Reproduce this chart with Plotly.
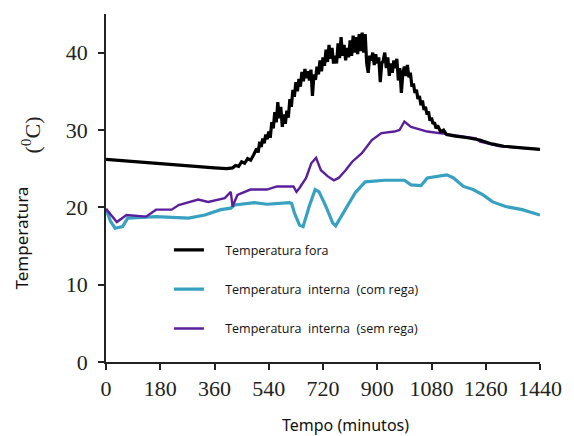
import plotly.graph_objects as go

# ---- data ----
fora_t = [0, 60, 120, 180, 240, 300, 360, 400, 420, 430, 440, 450, 460, 470, 480, 490, 500, 505, 510, 515,
          520, 525, 530, 535, 540, 545, 550, 555, 560, 565, 570, 575, 580, 585, 590, 595, 600, 605, 610, 615,
          620, 625, 630, 635, 640, 645, 650, 655, 660, 665, 670, 675, 680, 685, 690, 695, 700, 705, 710, 715,
          720, 725, 730, 735, 740, 745, 750, 755, 760, 765, 770, 775, 780, 785, 790, 795, 800, 805, 810, 815,
          820, 825, 830, 835, 840, 845, 850, 855, 860, 865, 870, 875, 880, 885, 890, 895, 900, 905, 910, 915,
          920, 925, 930, 935, 940, 945, 950, 955, 960, 965, 970, 975, 980, 985, 990, 995, 1000, 1005, 1010, 1015,
          1020, 1025, 1030, 1035, 1040, 1045, 1050, 1055, 1060, 1065, 1070, 1075, 1080, 1085, 1090, 1095, 1100,
          1110, 1120, 1130, 1140, 1160, 1200, 1240, 1280, 1320, 1380, 1440]
fora_v = [26.2, 26.0, 25.8, 25.6, 25.4, 25.3, 25.1, 25.0, 25.1, 25.4, 25.3, 25.9, 25.7, 26.3, 26.1, 26.8, 27.6, 27.1, 28.5, 27.8,
          28.9, 28.3, 29.4, 28.8, 29.8, 29.0, 31.0, 30.2, 32.3, 31.0, 33.6, 31.5, 33.0, 30.4, 32.0, 30.8, 32.5, 31.6, 34.0, 33.0,
          35.2, 34.3, 36.2, 35.0, 36.6, 35.6, 37.5, 36.3, 37.9, 36.7, 37.6, 36.4, 37.8, 34.4, 37.2, 36.5, 38.2, 37.2, 39.0, 37.6,
          39.4, 38.3, 40.4, 38.8, 41.0, 39.2, 40.6, 38.6, 39.6, 38.6, 41.2, 39.3, 42.0, 39.6, 41.0, 39.0, 40.6, 39.4, 41.6, 39.6,
          42.2, 40.0, 42.0, 39.8, 42.4, 40.2, 42.6, 40.0, 42.4, 38.6, 37.4, 39.6, 39.0, 40.0, 38.4, 39.8, 38.6, 39.4, 36.2, 38.6,
          39.0, 40.0, 38.0, 39.4, 37.0, 38.6, 37.4, 39.0, 38.0, 39.2, 36.4, 38.0, 34.8, 37.4, 38.2, 37.0, 38.4, 36.8, 37.4, 35.6,
          36.0, 34.8, 35.2, 34.0, 34.4, 33.2, 33.8, 32.6, 33.0, 32.0, 32.4, 31.2, 31.6, 30.8, 31.0, 30.2, 30.6,
          29.8, 30.0, 29.4, 29.3, 29.2, 29.0, 28.7, 28.2, 27.9, 27.7, 27.5]

com_t = [0, 15, 30, 55, 72, 110, 166, 220, 274, 328, 381, 414, 427, 492, 534, 609, 616, 625, 642, 654,
         674, 694, 707, 730, 752, 762, 795, 827, 860, 925, 990, 1012, 1045, 1066, 1131, 1153, 1186, 1218,
         1251, 1283, 1326, 1381, 1440]
com_v = [19.8, 18.2, 17.3, 17.5, 18.6, 18.7, 18.8, 18.7, 18.6, 19.0, 19.7, 19.9, 20.3, 20.6, 20.4, 20.6, 20.5, 19.3, 17.7, 17.5,
         20.1, 22.3, 22.0, 20.1, 18.0, 17.6, 19.7, 21.9, 23.3, 23.5, 23.5, 22.9, 22.8, 23.8, 24.2, 23.8, 22.7, 22.3,
         21.6, 20.7, 20.1, 19.7, 19.0]

sem_t = [0, 36, 68, 110, 133, 166, 218, 241, 306, 339, 394, 414, 420, 436, 479, 534, 567, 622, 632, 642,
         664, 681, 697, 713, 736, 756, 772, 795, 817, 849, 882, 914, 957, 974, 990, 1012, 1066, 1143,
         1228, 1241, 1283, 1306, 1440]
sem_v = [19.8, 18.1, 19.0, 18.9, 18.8, 19.7, 19.7, 20.3, 21.0, 20.7, 21.2, 22.0, 20.1, 21.6, 22.3, 22.3, 22.7, 22.7, 22.0, 22.5,
         23.8, 25.7, 26.4, 24.8, 24.0, 23.5, 23.8, 24.8, 25.9, 27.0, 28.7, 29.6, 29.8, 30.0, 31.1, 30.4, 29.8, 29.4,
         28.9, 28.5, 28.1, 27.9, 27.5]

names = ["Temperatura fora", "Temperatura  interna  (com rega)", "Temperatura  interna  (sem rega)"]
colors = ["#000000", "#38a0c0", "#5a1f9a"]
x_ticks = [0, 180, 360, 540, 720, 900, 1080, 1260, 1440]
y_ticks = [0, 10, 20, 30, 40]

pad = "\u00a0\u00a0\u00a0\u00a0\u00a0"

fig = go.Figure()
fig.add_trace(go.Scatter(x=com_t, y=com_v, mode="lines", name=pad + names[1].replace(" ", "\u00a0"),
                         legendgroup="b", legendrank=2, line=dict(color=colors[1], width=3.2)))
fig.add_trace(go.Scatter(x=sem_t, y=sem_v, mode="lines", name=pad + names[2].replace(" ", "\u00a0"),
                         legendgroup="c", legendrank=3, line=dict(color=colors[2], width=2.4)))
fig.add_trace(go.Scatter(x=fora_t, y=fora_v, mode="lines", name=pad + names[0],
                         legendgroup="a", legendrank=1, line=dict(color=colors[0], width=3.2)))

fig.update_layout(
    width=574, height=436,
    margin=dict(l=106, r=26, t=14, b=74),
    paper_bgcolor="white", plot_bgcolor="white",
    showlegend=True,
    legend=dict(x=0.145, y=0.364, xanchor="left", yanchor="top", bgcolor="rgba(0,0,0,0)",
                font=dict(family="Open Sans", size=12.5, color="#111"),
                tracegroupgap=20, traceorder="grouped"),
    xaxis=dict(range=[0, 1440], tickvals=x_ticks, ticktext=[str(v) for v in x_ticks],
               showgrid=False, zeroline=False, showline=True, linecolor="#222", linewidth=1.5,
               ticks="outside", ticklen=6, tickwidth=1.5, tickcolor="#222",
               tickfont=dict(family="Liberation Serif", size=22, color="#222")),
    yaxis=dict(range=[0, 45], tickvals=y_ticks, showgrid=False, zeroline=False, showline=True,
               linecolor="#222", linewidth=1.5, ticks="outside", ticklen=6, tickwidth=1.5, tickcolor="#222",
               ticklabelstandoff=6,
               tickfont=dict(family="Liberation Serif", size=22, color="#222")),
    annotations=[
        dict(text="Tempo (minutos)", xref="paper", yref="paper", x=0.552, y=-0.18,
             xanchor="center", yanchor="middle",
             showarrow=False, font=dict(family="Noto Sans", size=16, color="#111")),
        dict(text="Temperatura", xref="paper", yref="paper", x=-0.195, y=0.356, textangle=-90,
             xanchor="center", yanchor="middle",
             showarrow=False, font=dict(family="Noto Sans", size=17, color="#111")),
        dict(text="(<sup>0</sup>C)", xref="paper", yref="paper", x=-0.172, y=0.652, textangle=-90,
             xanchor="center", yanchor="middle",
             showarrow=False, font=dict(family="Liberation Serif", size=22, color="#222")),
    ],
)

fig.write_html("out.html")
